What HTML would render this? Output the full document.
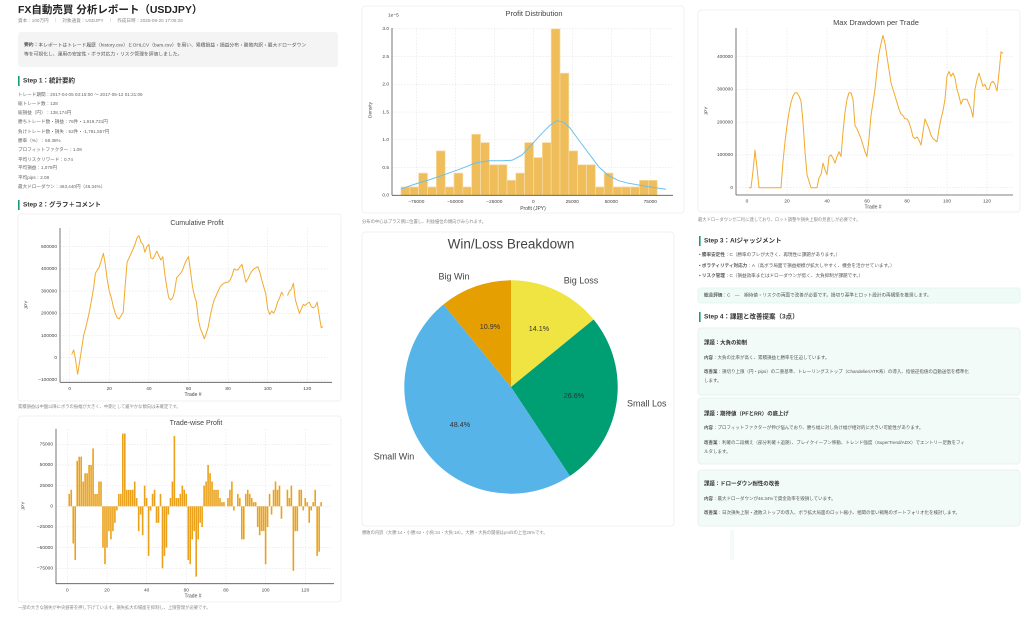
<!DOCTYPE html>
<html><head><meta charset="utf-8"><style>
html,body{margin:0;padding:0;background:#fff;width:1024px;height:623px;overflow:hidden}
svg{display:block}
text{font-family:"Liberation Sans","Noto Sans CJK JP",sans-serif}
</style></head><body>
<svg id="s" width="1024" height="623" viewBox="0 0 1024 623" xmlns="http://www.w3.org/2000/svg"></svg>
<script>
const S=document.getElementById('s');let h='';
function t(x,y,s,str,o){o=o||{};h+=`<text x="${x}" y="${y}" font-size="${s}" fill="${o.c||'#444'}" ${o.a?`text-anchor="${o.a}"`:''} ${o.b?'font-weight="bold"':''} ${o.r?`transform="rotate(-90 ${x} ${y})"`:''} dominant-baseline="middle">${str}</text>`;}
function r(x,y,w,hh,f,st,rx){h+=`<rect x="${x}" y="${y}" width="${w}" height="${hh}" fill="${f}" ${st?`stroke="${st}" stroke-width="0.7"`:''} rx="${rx||0}"/>`;}
function ln(x1,y1,x2,y2,c,w,d){h+=`<line x1="${x1}" y1="${y1}" x2="${x2}" y2="${y2}" stroke="${c}" stroke-width="${w||1}" ${d?`stroke-dasharray="${d}"`:''}/>`;}
function pl(p,c,w){h+=`<polyline points="${p.map(q=>q[0].toFixed(1)+','+q[1].toFixed(1)).join(' ')}" fill="none" stroke="${c}" stroke-width="${w}" stroke-linejoin="round"/>`;}
const G='#e4e4e4',AX='#555',TK='#444';
// ---------- LEFT column text
t(18,10,10.5,'FX自動売買 分析レポート（USDJPY）',{b:1,c:'#222'});
t(18,21,4.6,'資本：100万円　｜　対象通貨：USDJPY　｜　作成日時：2025-09-20 17:05:26',{c:'#888'});
r(18,32,320,35,'#f4f4f4',null,3);
t(24,45,4.8,'<tspan font-weight="bold">要約：</tspan>本レポートはトレード履歴（history.csv）とOHLCV（bars.csv）を用い、累積損益・損益分布・勝敗内訳・最大ドローダウン',{c:'#555'});
t(24,54,4.8,'等を可視化し、運用の安定性・ボラ対応力・リスク管理を評価しました。',{c:'#555'});
function step(x,y,s){r(x,y-5,1.6,10,'#1a9b7a');t(x+5,y,6.5,s,{b:1,c:'#333'});}
step(18,81,'Step 1：統計要約');
const st=['トレード期間：2017-04-05 03:15:00 〜 2017-05-12 01:21:06','総トレード数：128','総損益（円）：138,174円','勝ちトレード数・損益：76件・1,919,731円','負けトレード数・損失：52件・-1,781,557円','勝率（%）：59.38%','プロフィットファクター：1.08','平均リスクリワード：0.74','平均損益：1,079円','平均pips：2.08','最大ドローダウン：463,440円（46.34%）'];
const sy=[95,104,113,122,132,141,150,160,168,178,187];
st.forEach((s,i)=>t(18,sy[i],4.6,s,{c:'#666'}));
step(18,205,'Step 2：グラフ＋コメント');
// cards
function card(x,y,w,hh){r(x,y,w,hh,'#fff','#ececec',3);}
card(18,214,323,187);card(18,416,323,186);
card(362,6,322,207);card(362,232,312,294);
card(698,10,322,202);
// ---------- Cumulative
const cum={1:15,2:35,3:-10,4:-75,5:-20,6:40,7:100,8:130,9:170,10:210,11:260,12:310,13:380,14:395,15:410,16:440,17:470,18:420,19:350,20:300,21:270,22:230,23:200,24:180,25:175,26:190,27:205,28:320,29:430,30:450,31:470,32:490,33:510,34:540,35:550,36:520,37:510,38:475,39:500,40:510,41:450,42:445,43:460,44:480,45:460,46:440,47:455,48:380,49:320,50:270,51:260,52:270,53:300,54:360,55:370,56:380,57:395,58:420,59:440,60:455,61:390,62:320,63:280,64:250,65:170,66:130,67:110,68:85,69:110,70:140,71:190,72:230,73:260,74:280,75:300,76:320,77:330,78:335,79:340,80:340,81:350,82:370,83:400,84:395,85:395,86:410,87:420,88:380,89:340,90:355,91:375,92:390,93:400,94:405,95:410,96:385,97:350,98:320,99:290,100:220,101:195,102:210,103:200,104:220,105:250,106:270,107:295,108:280,109:280,110:280,111:300,112:310,113:335,114:260,115:230,116:200,117:220,118:240,119:235,120:245,121:250,122:230,123:225,124:230,125:250,126:190,127:135,128:140};
{const X=n=>69.7+n*1.98,Y=v=>357.7-v*0.222;
for(let n=0;n<=120;n+=20)ln(X(n),228,X(n),382,G,0.6,'1.5,1.5');
for(let v=-100;v<=500;v+=100)ln(60,Y(v),330,Y(v),G,0.6,'1.5,1.5');
ln(60,228,60,382.3,AX,0.8);ln(60,382.3,332,382.3,AX,0.8);
for(let v=-100;v<=500;v+=100){t(57,Y(v),4.8,(v<0?'−':'')+Math.abs(v*1000),{a:'end',c:TK});}
for(let n=0;n<=120;n+=20)t(X(n),388.5,4.8,n,{a:'middle',c:TK});
const p1=[],p2=[];for(let n=1;n<=128;n++){(n<=108?p1:p2).push([X(n),Y(cum[n])]);}p2.shift();
pl(p1,'#f2aa2c',1);pl(p2,'#f2aa2c',1);
t(197,223,7,'Cumulative Profit',{a:'middle',c:'#444'});
t(193,394.5,5,'Trade #',{a:'middle',c:'#444'});
t(26,305,4.8,'JPY',{a:'middle',c:'#444',r:1});
}
t(18,407,4.3,'累積損益は中盤以降にボラの振幅が大きく、中期として緩やかな傾向は未確定です。',{c:'#888'});
// ---------- Trade-wise
{const X=n=>67.3+n*1.983,Y=v=>506.3-v*0.8268;
for(let n=0;n<=120;n+=20)ln(X(n),429,X(n),583,G,0.6,'1.5,1.5');
for(let v=-75;v<=75;v+=25)ln(56,Y(v),332,Y(v),G,0.6,'1.5,1.5');
let prev=0;for(let n=1;n<=128;n++){let d=cum[n]-prev;prev=cum[n];if(n==54)d=85;if(n==65)d=-85;if(n==114)d=-78;d=Math.max(-88,Math.min(88,d));
const y0=Y(0),y1=Y(d);r(X(n)-0.8,Math.min(y0,y1),1.6,Math.abs(y1-y0),'#eaa21c');}
ln(56,428.7,56,583.7,AX,0.8);ln(56,583.7,334,583.7,AX,0.8);
for(let v=-75;v<=75;v+=25)t(53,Y(v),4.8,(v<0?'−':'')+Math.abs(v*1000),{a:'end',c:TK});
for(let n=0;n<=120;n+=20)t(X(n),590,4.8,n,{a:'middle',c:TK});
t(196,423,7,'Trade-wise Profit',{a:'middle',c:'#444'});
t(193,596,5,'Trade #',{a:'middle',c:'#444'});
t(23,506,4.8,'JPY',{a:'middle',c:'#444',r:1});
}
t(18,608,4.3,'一部の大きな損失が中央値帯を押し下げています。損失拡大の場面を抑制し、上限管理が必要です。',{c:'#888'});
// ---------- Histogram
{const X=v=>533.3+v*39/25000,Y=d=>195.3-d*55.5;
for(let v=-75000;v<=75000;v+=25000)ln(X(v),28,X(v),195,G,0.6,'1.5,1.5');
for(let d=0.5;d<=3;d+=0.5)ln(392,Y(d),673,Y(d),G,0.6,'1.5,1.5');
const hs=[0.15,0.15,0.4,0.15,0.8,0.15,0.4,0.15,1.1,0.95,0.55,0.55,0.27,0.4,0.95,0.68,0.95,3.0,2.2,0.8,0.55,0.55,0.15,0.4,0.15,0.15,0.15,0.27,0.27,0];
const x0=362+117/3,bw=26.5/3;hs.forEach((d,i)=>{if(d>0)r(x0+i*bw,Y(d),bw,Y(0)-Y(d),'#efbd5a','#f7dca6');});
const kd=[[117,552],[160,537],[200,525],[250,508],[300,490],[340,474],[380,467],[420,467],[450,466],[480,450],[510,418],[540,385],[565,360],[585,347],[605,352],[625,370],[650,405],[680,445],[710,485],[740,512],[770,527],[800,535],[860,545],[912,553]].map(q=>[362+q[0]/3,5+q[1]/3]);
pl(kd,'#6cc0ec',1);
ln(392,28,392,195.3,AX,0.8);ln(392,195.3,673,195.3,AX,0.8);
for(let d=0;d<=3;d+=0.5)t(389,Y(d),4.8,d.toFixed(1),{a:'end',c:TK});
for(let v=-75000;v<=75000;v+=25000)t(X(v),201.5,4.8,(v<0?'−':'')+Math.abs(v),{a:'middle',c:TK});
t(388,15,4.8,'1e−5',{c:TK});
t(534,14,7.5,'Profit Distribution',{a:'middle',c:'#444'});
t(533,208.5,5,'Profit (JPY)',{a:'middle',c:'#444'});
t(370,110,4.8,'Density',{a:'middle',c:'#444',r:1});
}
t(362,222,4.3,'分布の中心はプラス側に位置し、利益優位の傾向がみられます。',{c:'#888'});
// ---------- Pie
{const cx=511,cy=387,R=106.7;const sl=[[14.1,'#f0e442'],[26.6,'#009e73'],[48.4,'#56b4e9'],[10.9,'#e69f00']];let a=0;
const P=(ang,rr)=>[cx+rr*Math.sin(ang*Math.PI/180),cy-rr*Math.cos(ang*Math.PI/180)];
sl.forEach(s=>{const b=a+s[0]*3.6;const p0=P(a,R),p1=P(b,R);h+=`<path d="M${cx},${cy} L${p0[0]},${p0[1]} A${R},${R} 0 ${b-a>180?1:0} 1 ${p1[0]},${p1[1]} Z" fill="${s[1]}"/>`;a=b;});
t(511,245,13.5,'Win/Loss Breakdown',{a:'middle',c:'#444'});
t(454,277,9,'Big Win',{a:'middle',c:'#444'});t(581,281,9,'Big Loss',{a:'middle',c:'#444'});
t(627,404,9,'Small Los',{c:'#444'});t(394,457,9,'Small Win',{a:'middle',c:'#444'});
t(490,327,7.2,'10.9%',{a:'middle',c:'#333'});t(539,329,7.2,'14.1%',{a:'middle',c:'#333'});
t(574,396,7.2,'26.6%',{a:'middle',c:'#333'});t(460,425,7.2,'48.4%',{a:'middle',c:'#333'});
}
t(362,533,4.3,'勝敗の内訳（大勝:14・小勝:62・小負:34・大負:18）。大勝・大負の閾値はprofitの上位25%です。',{c:'#888'});
// ---------- Drawdown
{const dd=[0,0,0,50,115,60,0,0,0,0,0,0,0,0,0,0,0,0,80,140,190,230,260,280,290,290,280,265,200,110,40,20,0,0,0,0,30,40,75,55,40,95,100,90,75,95,110,95,170,230,270,290,290,270,190,180,165,150,130,110,95,150,220,260,300,360,410,440,465,440,400,360,320,300,280,260,240,225,220,210,210,200,180,155,150,155,145,130,170,210,195,180,160,150,145,140,180,210,235,270,340,355,340,350,335,300,280,255,270,270,270,255,240,215,300,330,350,330,310,315,300,300,320,325,315,295,350,415,410];
const X=n=>747+n*2,Y=v=>187.7-v*0.3275;
for(let n=0;n<=120;n+=20)ln(X(n),28,X(n),195,G,0.6,'1.5,1.5');
for(let v=0;v<=400;v+=100)ln(736,Y(v),1013,Y(v),G,0.6,'1.5,1.5');
const p=[];for(let n=1;n<=128;n++)p.push([X(n),Y(dd[n])]);pl(p,'#f2aa2c',1);
ln(736,28,736,195,AX,0.8);ln(736,195,1013,195,AX,0.8);
for(let v=0;v<=400;v+=100)t(733,Y(v),4.8,v*1000,{a:'end',c:TK});
for(let n=0;n<=120;n+=20)t(X(n),201,4.8,n,{a:'middle',c:TK});
t(876,23,7.5,'Max Drawdown per Trade',{a:'middle',c:'#444'});
t(873,207,5,'Trade #',{a:'middle',c:'#444'});
t(706,111,4.8,'JPY',{a:'middle',c:'#444',r:1});
}
t(698,220,4.3,'最大ドローダウンが二桁に達しており、ロット調整や損失上限の見直しが必要です。',{c:'#888'});
// ---------- Right text
step(699,241,'Step 3：AIジャッジメント');
t(699,255,4.6,'• <tspan font-weight="bold">勝率安定性</tspan>：C（勝率のブレが大きく、再現性に課題があります。）',{c:'#555'});
t(699,266,4.6,'• <tspan font-weight="bold">ボラティリティ対応力</tspan>：A（高ボラ局面で損益規模が拡大しやすく、機会を活かせています。）',{c:'#555'});
t(699,276,4.6,'• <tspan font-weight="bold">リスク管理</tspan>：C（損益効率またはドローダウンが低く、大負抑制が課題です。）',{c:'#555'});
r(698,288,322,15,'#effbf6','#e2f3ec',2);
t(704,295.5,4.6,'<tspan font-weight="bold">総合評価</tspan>：C　—　期待値・リスクの両面で改善が必要です。損切り基準とロット設計の再構築を推奨します。',{c:'#555'});
step(699,317,'Step 4：課題と改善提案（3点）');
function ic(y0,y1,title,ty,lines){r(698,y0,322,y1-y0,'#f3fbf8','#e2efe9',3);t(704,ty,5.4,title,{b:1,c:'#333'});lines.forEach(l=>t(704,l[0],4.5,l[1],{c:'#555'}));}
ic(328,395,'課題：大負の抑制',343,[[358,'<tspan font-weight="bold">内容</tspan>：大負の比率が高く、累積損益と勝率を圧迫しています。'],[372,'<tspan font-weight="bold">改善案</tspan>：損切り上限（円・pips）の二重基準、トレーリングストップ（Chandelier/ATR系）の導入、指値逆指値の自動送信を標準化'],[381,'します。']]);
ic(398,464,'課題：期待値（PFとRR）の底上げ',414,[[428,'<tspan font-weight="bold">内容</tspan>：プロフィットファクターが伸び悩んでおり、勝ち幅に対し負け幅が相対的に大きい可能性があります。'],[443,'<tspan font-weight="bold">改善案</tspan>：利確の二段構え（部分利確＋追随）、ブレイクイーブン移動、トレンド強度（SuperTrend/ADX）でエントリー足数をフィ'],[452,'ルタします。']]);
ic(470,526,'課題：ドローダウン耐性の改善',484,[[499,'<tspan font-weight="bold">内容</tspan>：最大ドローダウンが46.34%で資金効率を毀損しています。'],[513,'<tspan font-weight="bold">改善案</tspan>：日次損失上限・連敗ストップの導入、ボラ拡大局面のロット縮小、相関の低い戦略のポートフォリオ化を検討します。']]);
r(730,530,4,30,'#f3fbf8');
S.innerHTML=h;
</script>
</body></html>
